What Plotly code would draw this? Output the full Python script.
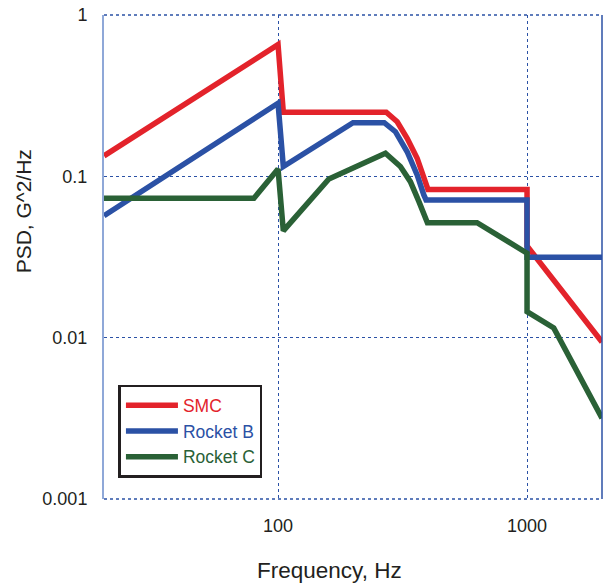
import plotly.graph_objects as go

# Frequencies (Hz) and PSD values (G^2/Hz)
smc_f = [20, 100, 105, 272, 301, 330, 362, 391, 400, 1000, 1000, 2000]
smc_v = [0.134, 0.655, 0.25, 0.25, 0.218, 0.172, 0.1295, 0.0927, 0.083, 0.083, 0.037, 0.0094]

rb_f = [20, 100, 105, 200, 267, 296, 330, 362, 385, 393, 1000, 1000, 2000]
rb_v = [0.057, 0.284, 0.115, 0.215, 0.215, 0.189, 0.142, 0.102, 0.0767, 0.0714, 0.0714, 0.0315, 0.0315]

rc_f = [20, 80, 100, 105, 160, 270, 310, 340, 368, 391, 398, 630, 1000, 1000, 1280, 2000]
rc_v = [0.0731, 0.0731, 0.111, 0.0459, 0.0964, 0.139, 0.115, 0.0927, 0.0697, 0.0537, 0.0516, 0.0516, 0.0334, 0.0145, 0.0115, 0.00317]

series_names = ["SMC", "Rocket B", "Rocket C"]
series_colors = ["#e3232b", "#2b51a5", "#2a6136"]

x_tickvals = [100, 1000]
x_ticktext = ["100", "1000"]
y_tickvals = [0.001, 0.01, 0.1, 1]
y_ticktext = ["0.001", "0.01", "0.1", "1"]

FONT = "Arial, 'Liberation Sans', sans-serif"
GRID = "#2b51a5"

fig = go.Figure()
for fx, fy, name, col in zip([smc_f, rb_f, rc_f], [smc_v, rb_v, rc_v], series_names, series_colors):
    fig.add_trace(go.Scatter(
        x=fx, y=fy, mode="lines",
        name=f'<span style="color:{col}">{name}</span>',
        line=dict(color=col, width=5.5),
    ))

fig.update_layout(
    width=606, height=584,
    margin=dict(l=104, r=4, t=15, b=85),
    paper_bgcolor="white", plot_bgcolor="white",
    font=dict(family=FONT, size=16, color="#231f20"),
    showlegend=True,
    legend=dict(
        x=0.029, y=0.236, xanchor="left", yanchor="top",
        bgcolor="white", bordercolor="#231f20", borderwidth=2.5,
        font=dict(family=FONT, size=17.5),
        tracegroupgap=0, itemwidth=52,
    ),
    xaxis=dict(
        type="log", range=[1.30103, 3.30103],
        tickvals=x_tickvals, ticktext=x_ticktext,
        showgrid=True, gridcolor=GRID, griddash="dot", gridwidth=1.3,
        showline=False, zeroline=False, ticks="",
        ticklabelstandoff=14,
        tickfont=dict(family=FONT, size=18, color="#231f20"),
    ),
    yaxis=dict(
        type="log", range=[-3, 0],
        tickvals=y_tickvals, ticktext=y_ticktext,
        showgrid=True, gridcolor=GRID, griddash="dot", gridwidth=1.3,
        showline=True, linecolor="#8fa8d8", linewidth=2,
        zeroline=False, ticks="",
        ticklabelstandoff=11,
        tickfont=dict(family=FONT, size=18, color="#231f20"),
    ),
    annotations=[
        dict(text="Frequency, Hz", xref="paper", yref="paper",
             x=0.452, y=-0.148, xanchor="center", yanchor="middle",
             showarrow=False, font=dict(family=FONT, size=22.5, color="#231f20")),
        dict(text="PSD, G^2/Hz", xref="paper", yref="paper",
             x=-0.162, y=0.595, xanchor="center", yanchor="middle",
             textangle=-90,
             showarrow=False, font=dict(family=FONT, size=21, color="#231f20")),
    ],
    shapes=[
        dict(type="line", xref="paper", yref="paper", x0=1, x1=1, y0=0, y1=1,
             line=dict(color=GRID, width=1.5)),
        dict(type="line", xref="paper", yref="paper", x0=0, x1=1, y0=1, y1=1,
             line=dict(color=GRID, width=1.5, dash="dot")),
        dict(type="line", xref="paper", yref="paper", x0=0, x1=1, y0=0, y1=0,
             line=dict(color=GRID, width=1.5, dash="dot")),
    ],
)

fig.write_html(
    "out.html",
    config={"displayModeBar": False},
    post_script="document.body.style.margin='0';document.body.style.overflow='hidden';",
)
